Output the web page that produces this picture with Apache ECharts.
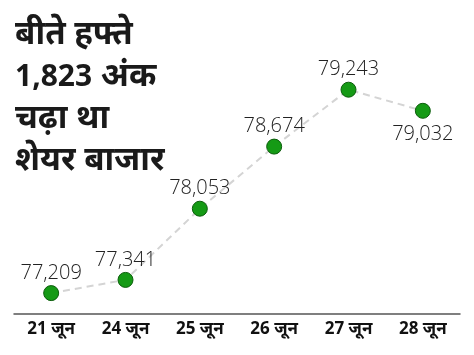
<!DOCTYPE html>
<html>
<head>
<meta charset="utf-8">
<script src="https://cdn.jsdelivr.net/npm/echarts@6/dist/echarts.min.js"></script>
<style>
html, body { margin: 0; padding: 0; background: #fff; }
#chart { width: 474px; height: 355px; }
</style>
</head>
<body>
<div id="chart"></div>
<script>
// 日期 + 收盘点数
var dates = ['21 जून', '24 जून', '25 जून', '26 जून', '27 जून', '28 जून'];
var closeValues = [77209, 77341, 78053, 78674, 79243, 79032];
var titleLines = ['बीते हफ्ते', '{num|1,823} अंक', 'चढ़ा था', 'शेयर बाजार'];

var chart = echarts.init(document.getElementById('chart'));

var seriesData = closeValues.map(function (v, i) {
    var item = {value: v};
    // 最后一个点的标签放在下方
    if (i === closeValues.length - 1) {
        item.label = {position: 'bottom', distance: 5};
    }
    return item;
});

chart.setOption({
    animation: false,
    title: {
        text: titleLines.join('\n'),
        left: 10,
        top: 9,
        textStyle: {
            fontSize: 33,
            fontWeight: 'bold',
            color: '#1a1a1a',
            lineHeight: 42,
            fontFamily: 'Noto Sans, sans-serif',
            rich: {
                num: {
                    fontSize: 30,
                    fontWeight: 'bold',
                    color: '#1a1a1a',
                    lineHeight: 42,
                    fontFamily: 'Noto Sans, sans-serif'
                }
            }
        }
    },
    grid: {
        left: 14,
        right: 14,
        top: 14,
        bottom: 41
    },
    xAxis: {
        type: 'category',
        data: dates,
        boundaryGap: true,
        axisLine: {lineStyle: {color: '#555', width: 1.5}},
        axisTick: {inside: true, length: 7, lineStyle: {color: '#555', width: 1.5}},
        axisLabel: {
            color: '#111',
            fontSize: 17,
            fontWeight: 'bold',
            margin: 7,
            fontFamily: 'Noto Sans, sans-serif'
        }
    },
    yAxis: {
        type: 'value',
        min: 77000,
        max: 80000,
        show: false
    },
    series: [{
        type: 'line',
        data: seriesData,
        symbol: 'circle',
        symbolSize: 15,
        itemStyle: {color: '#159a15', borderColor: '#0b5c0b', borderWidth: 1},
        lineStyle: {color: '#d4d4d4', width: 2, type: [7, 5]},
        label: {
            show: true,
            position: 'top',
            distance: 2,
            fontSize: 20,
            fontWeight: 300,
            color: '#222',
            fontFamily: '"Open Sans", "Noto Sans", sans-serif',
            formatter: function (p) {
                return p.value.toLocaleString('en-US');
            }
        }
    }]
});
</script>
</body>
</html>
